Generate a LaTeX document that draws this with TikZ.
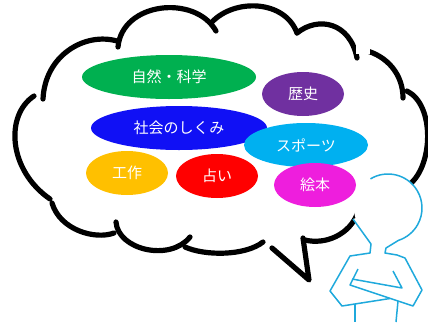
\documentclass[tikz,border=0pt]{standalone}
\usepackage{fontspec}
\newfontfamily\jpfont{Noto Sans CJK JP}
\usetikzlibrary{shapes.geometric}

\definecolor{natgreen}{HTML}{00B050}
\definecolor{histpurple}{HTML}{7030A0}
\definecolor{socblue}{HTML}{1010F5}
\definecolor{sportcyan}{HTML}{00B0F0}
\definecolor{craftorange}{HTML}{FFC000}
\definecolor{fortunered}{HTML}{FF0000}
\definecolor{bookpink}{HTML}{EE1EDD}
\definecolor{personblue}{HTML}{1FA9DC}

\tikzset{
    bump/.style={line width=5.2pt, line cap=round, line join=round},
    topic/.style={ellipse, inner sep=0pt, text=white,
        font=\jpfont\fontsize{15}{17}\selectfont},
    figure/.style={draw=personblue, line width=1.5pt, line join=round}
}

\begin{document}
\begin{tikzpicture}[x=1pt, y=-1pt]
\useasboundingbox (0,0) rectangle (428,322);

% cloud outline, one bump at a time
\draw[bump] (34,96) .. controls (5,115) and (8,170) .. (50,199);
\draw[bump] (43,99) .. controls (45,55) and (85,32) .. (117,41);
\draw[bump] (118,47) .. controls (122,2) and (195,-6) .. (216,31);
\draw[bump] (212,22) .. controls (235,-2) and (285,0) .. (297,33);
\draw[bump] (297,33) .. controls (318,16) and (350,22) .. (357,58);
\draw[bump] (364,50) .. controls (388,56) and (403,75) .. (403,98);
\fill[white] (356,20) rectangle (370,54);
\draw[bump] (407,91) .. controls (435,105) and (433,165) .. (410,184);
\draw[bump] (358,212) .. controls (350,235) and (325,245) .. (305,240);
\draw[bump] (272,248) -- (309,280) -- (303,238);
\draw[bump] (185,247) .. controls (205,256) and (245,256) .. (263,242);
\draw[bump] (116,222) .. controls (118,250) and (170,262) .. (190,237);
\draw[bump] (52,203) .. controls (60,230) and (95,240) .. (114,233);

% topics
\node[topic, fill=natgreen, minimum width=174pt, minimum height=44pt] (nature) at (169,77) {自然・科学};
\node[topic, fill=histpurple, minimum width=82pt, minimum height=44pt] (history) at (303,94) {歴史};
\node[topic, fill=socblue, minimum width=176pt, minimum height=44pt] (society) at (179,128) {社会のしくみ};
\node[topic, fill=sportcyan, minimum width=124pt, minimum height=44pt] (sports) at (306,145) {スポーツ};
\node[topic, fill=craftorange, minimum width=82pt, minimum height=44pt] (craft) at (127,173) {工作};
\node[topic, fill=fortunered, minimum width=82pt, minimum height=44pt] (fortune) at (217,176) {占い};
\node[topic, fill=bookpink, minimum width=82pt, minimum height=44pt] (picturebook) at (315,185) {絵本};

% thinking person
\fill[white] (388,208) circle[radius=34];
\fill[white] (353,219) -- (371,244) -- (388,242) -- (388,208) -- cycle;
\draw[figure] (388,208) ++(-121:34) arc[start angle=-121, end angle=72, radius=34]
    -- (386,248) -- (385,253) -- (397,255) -- (405,258) -- (422,290) -- (413,306)
    -- (350,285) -- (358,269);
\draw[figure] (353,219) -- (371,244) -- (370,253) -- (350,256) -- (330,291)
    -- (342,306) -- (390,298.5);
\draw[figure] (393,271) -- (402,288) -- (352,279);
\draw[figure] (355,304) -- (355,322);
\draw[figure] (398,301) -- (396,322);
\end{tikzpicture}
\end{document}
